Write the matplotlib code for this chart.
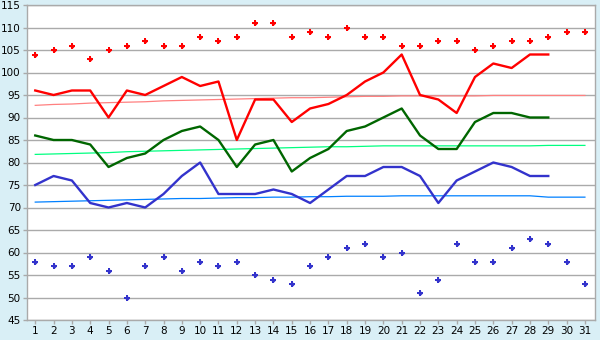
import matplotlib
matplotlib.use("Agg")
import matplotlib.pyplot as plt
import numpy as np

days = list(range(1, 32))
days_obs = list(range(1, 30))

record_high = [104, 105, 106, 103, 105, 106, 107, 106, 106, 108, 107, 108, 111, 111, 108, 109,
               108, 110, 108, 108, 106, 106, 107, 107, 105, 106, 107, 107, 108, 109, 109]
high = [96, 95, 96, 96, 90, 96, 95, 97, 99, 97, 98, 85, 94, 94, 89, 92, 93, 95, 98, 100,
        104, 95, 94, 91, 99, 102, 101, 104, 104]
mean = [86, 85, 85, 84, 79, 81, 82, 85, 87, 88, 85, 79, 84, 85, 78, 81, 83, 87, 88, 90,
        92, 86, 83, 83, 89, 91, 91, 90, 90]
low = [75, 77, 76, 71, 70, 71, 70, 73, 77, 80, 73, 73, 73, 74, 73, 71, 74, 77, 77, 79,
       79, 77, 71, 76, 78, 80, 79, 77, 77]
record_low = [58, 57, 57, 59, 56, 50, 57, 59, 56, 58, 57, 58, 55, 54, 53, 57, 59, 61, 62, 59,
              60, 51, 54, 62, 58, 58, 61, 63, 62, 58, 53]
normal_high = [92.7, 92.9, 93.0, 93.2, 93.3, 93.4, 93.5, 93.7, 93.8, 93.9, 94.0, 94.1, 94.2,
               94.3, 94.4, 94.4, 94.5, 94.6, 94.7, 94.7, 94.8, 94.8, 94.8, 94.8, 94.8, 94.9,
               94.9, 94.9, 94.9, 94.9, 94.9]
normal_mean = [81.8, 81.9, 82.0, 82.1, 82.2, 82.4, 82.5, 82.6, 82.7, 82.8, 82.9, 83.0, 83.1,
               83.2, 83.3, 83.4, 83.5, 83.5, 83.6, 83.7, 83.7, 83.7, 83.7, 83.7, 83.7, 83.7,
               83.7, 83.7, 83.8, 83.8, 83.8]
normal_low = [71.2, 71.3, 71.4, 71.5, 71.6, 71.7, 71.8, 71.9, 72.0, 72.0, 72.1, 72.2, 72.2,
              72.3, 72.3, 72.4, 72.4, 72.5, 72.5, 72.5, 72.6, 72.6, 72.6, 72.6, 72.6, 72.6,
              72.6, 72.6, 72.3, 72.3, 72.3]
y_ticks = list(range(45, 116, 5))

bg = "#d9eff6"
fig = plt.figure(figsize=(6, 3.4), dpi=100, facecolor=bg)
ax = fig.add_axes([27 / 600, 1 - 320 / 340, (595 - 27) / 600, (320 - 5) / 340])
ax.set_facecolor("white")

ax.set_xlim(0.55, 31.55)
ax.set_ylim(45, 115)
ax.set_yticks(y_ticks)
ax.set_xticks(days)
ax.grid(axis="y", color="#aaaaaa", linewidth=1.0)
ax.set_axisbelow(True)
for s in ax.spines.values():
    s.set_color("#aaaaaa")
    s.set_linewidth(1.0)
ax.tick_params(axis="both", colors="#aaaaaa", labelcolor="black", labelsize=7.5,
               length=3, width=1.0, pad=1.5)

ax.plot(days, normal_high, color="#ff8080", lw=0.9)
ax.plot(days, normal_mean, color="#00ff80", lw=0.9)
ax.plot(days, normal_low, color="#0080ff", lw=0.9)

ax.plot(days_obs, high, color="#ff0000", lw=1.7)
ax.plot(days_obs, mean, color="#006600", lw=1.7)
ax.plot(days_obs, low, color="#3333cc", lw=1.7)

for vals, col in ((record_high, "#ff0000"), (record_low, "#3333cc")):
    ax.plot(days, vals, linestyle="none", marker="P", markersize=5.0,
            color=col, markeredgewidth=0)
    ax.plot(days, vals, linestyle="none", marker="D", markersize=2.6,
            color=col, markeredgewidth=0)

fig.savefig("out.png", dpi=100, facecolor=bg)
